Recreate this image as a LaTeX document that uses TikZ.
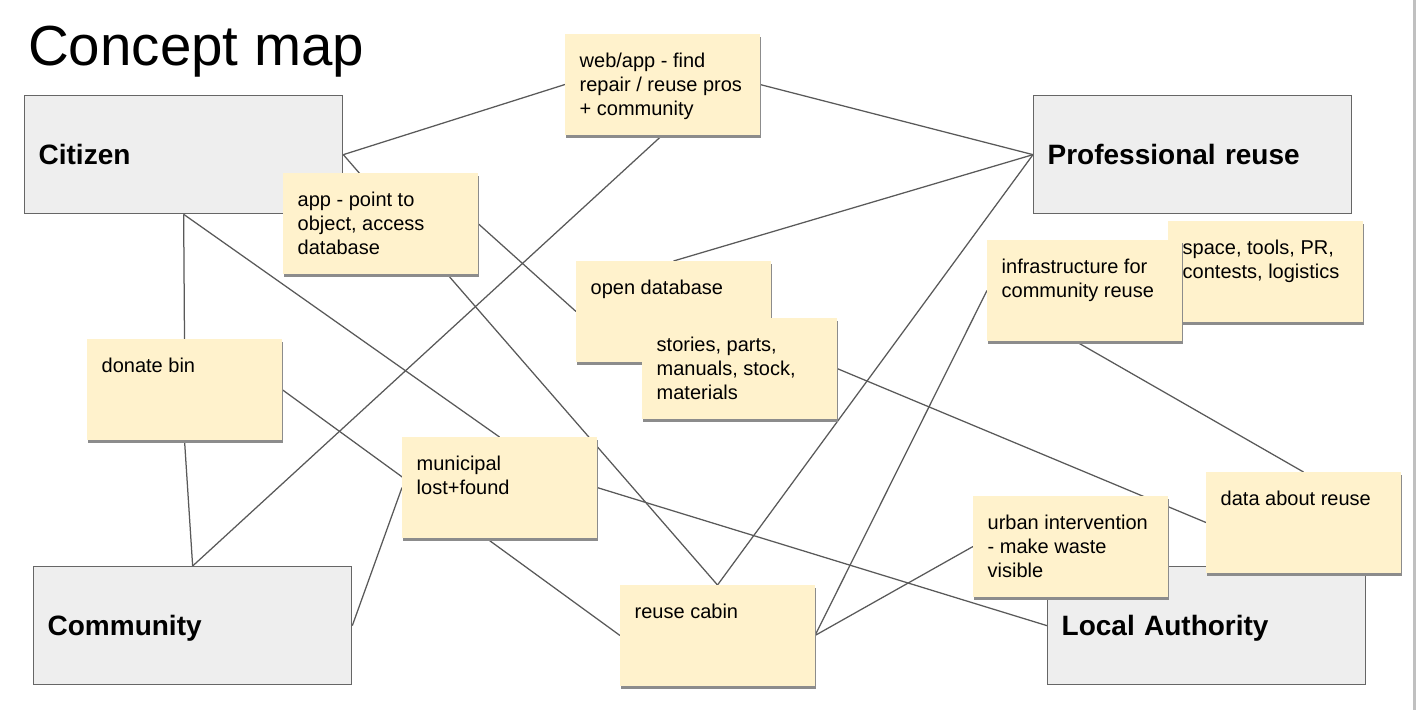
\documentclass[tikz,border=0pt]{standalone}
\usepackage{fontspec}
\setmainfont{Liberation Sans}
\usetikzlibrary{shadows}
\definecolor{stickyfill}{HTML}{FFF2CC}
\definecolor{boxfill}{HTML}{EEEEEE}
\definecolor{boxline}{HTML}{666666}
\definecolor{linkc}{HTML}{595959}
\definecolor{shadowc}{HTML}{8C8C8C}
\definecolor{barc}{HTML}{C0C0C0}
\pgfdeclarelayer{back}
\pgfdeclarelayer{links}
\pgfsetlayers{back,links,main}
\begin{document}
\begin{tikzpicture}[x=1pt,y=-1pt,
  concept/.style={draw=boxline, line width=1.3pt, fill=boxfill, anchor=north west,
    minimum width=318pt, minimum height=118pt, text width=290pt, inner xsep=14pt, inner ysep=0pt,
    align=left, font=\bfseries\fontsize{28}{32}\selectfont, text height=20pt, text depth=0pt},
  sticky/.style={fill=stickyfill, anchor=north west, minimum width=195pt, minimum height=101pt,
    inner sep=0pt, outer sep=0pt,
    drop shadow={shadow xshift=0.8pt, shadow yshift=-3pt, fill=shadowc, opacity=1}},
  stlab/.style={anchor=north west, align=left, inner sep=0pt, xshift=14.5pt, yshift=-16.9pt,
    font=\fontsize{20}{23.7}\selectfont},
  link/.style={draw=linkc, line width=1.25pt}]
\useasboundingbox (0,0) rectangle (1417,710);
\begin{pgfonlayer}{back}
  \fill[white] (0,0) rectangle (1417,710);
  \fill[barc] (1413,0) rectangle (1416,710);
\end{pgfonlayer}

\node[anchor=base west, inner sep=0pt, font=\fontsize{56.5}{62}\selectfont] (title) at (28,65) {Concept map};

\node[concept] (cit) at (24,95) {Citizen};
\node[concept] (prof) at (1033,95) {Professional reuse};
\node[concept] (comm) at (33,566) {Community};
\node[concept] (la) at (1047,566) {Local Authority};

\node[sticky, label={[stlab]north west:{\strut web/app - find\\repair / reuse pros\\+ community}}] (web) at (565,34) {};
\node[sticky, label={[stlab]north west:{\strut app - point to\\object, access\\database}}] (app) at (283,173) {};
\node[sticky, label={[stlab]north west:{\strut open database}}] (odb) at (576,261) {};
\node[sticky, label={[stlab]north west:{\strut stories, parts,\\manuals, stock,\\materials}}] (stor) at (642,318) {};
\node[sticky, label={[stlab]north west:{\strut space, tools, PR,\\contests, logistics}}] (space) at (1168,221) {};
\node[sticky, label={[stlab]north west:{\strut infrastructure for\\community reuse}}] (infra) at (987,240) {};
\node[sticky, label={[stlab]north west:{\strut donate bin}}] (donate) at (87,339) {};
\node[sticky, label={[stlab]north west:{\strut municipal\\lost+found}}] (muni) at (402,437) {};
\node[sticky, label={[stlab]north west:{\strut reuse cabin}}] (cab) at (620,585) {};
\node[sticky, label={[stlab]north west:{\strut urban intervention\\- make waste\\visible}}] (urban) at (973,496) {};
\node[sticky, label={[stlab]north west:{\strut data about reuse}}] (data) at (1206,472) {};

\begin{pgfonlayer}{links}
  \draw[link] (cit.east) -- (web.west);
  \draw[link] (cit.east) -- (cab.north);
  \draw[link] (cit.south) -- (donate.north);
  \draw[link] (cit.south) -- (muni.north);
  \draw[link] (web.east) -- (prof.west);
  \draw[link] (web.south) -- (comm.north);
  \draw[link] (app.east) -- (odb.west);
  \draw[link] (prof.west) -- (odb.north);
  \draw[link] (prof.west) -- (cab.north);
  \draw[link] (donate.south) -- (comm.north);
  \draw[link] (donate.east) -- (cab.west);
  \draw[link] (comm.east) -- (muni.west);
  \draw[link] (muni.east) -- (la.west);
  \draw[link] (stor.east) -- (data.west);
  \draw[link] (infra.west) -- (data.north);
  \draw[link] (cab.east) -- (infra.west);
  \draw[link] (cab.east) -- (urban.west);
\end{pgfonlayer}
\end{tikzpicture}
\end{document}
